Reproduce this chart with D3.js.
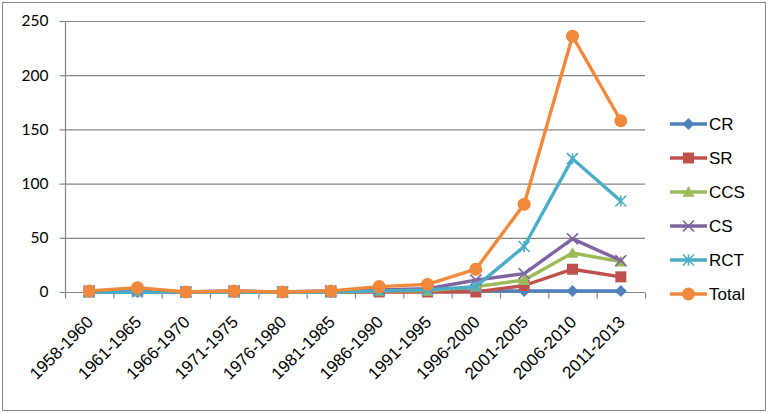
<!DOCTYPE html>
<html><head><meta charset="utf-8">
<script src="https://cdn.jsdelivr.net/npm/d3@7"></script>
<style>body{margin:0;background:#fff}svg{display:block}</style>
</head><body>
<svg id="c" width="768" height="414"></svg>
<script>
const categories = ["1958-1960","1961-1965","1966-1970","1971-1975","1976-1980","1981-1985","1986-1990","1991-1995","1996-2000","2001-2005","2006-2010","2011-2013"];
const CR    = [0, 0, 0, 0, 0, 0, 1, 1, 1, 1, 1, 1];
const SR    = [0, 1, 0, 0, 0, 0, 0, 0, 0, 6, 21, 14];
const CCS   = [0, 1, 0, 0, 0, 0, 1, 1, 5, 11, 36, 28];
const CS    = [1, 2, 0, 1, 0, 1, 2, 3, 11, 17, 49, 29];
const RCT   = [0, 0, 0, 0, 0, 0, 1, 2, 5, 42, 123, 84];
const Total = [1, 4, 0, 1, 0, 1, 5, 7, 21, 81, 236, 158];
const yTicks = [0, 50, 100, 150, 200, 250];

const series = [
  {name:"CR", values:CR, color:"#4F81BD", marker:"diamond"},
  {name:"SR", values:SR, color:"#C0504D", marker:"square"},
  {name:"CCS", values:CCS, color:"#9BBB59", marker:"triangle"},
  {name:"CS", values:CS, color:"#8064A2", marker:"x"},
  {name:"RCT", values:RCT, color:"#4BACC6", marker:"star"},
  {name:"Total", values:Total, color:"#F0893B", marker:"circle"}
];

const svg = d3.select("#c");
svg.append("rect").attr("x",2.5).attr("y",2.5).attr("width",763).attr("height",408)
  .attr("fill","#fff").attr("stroke","#868686").attr("stroke-width",1);

const L = 65, R = 645, T = 21, B = 292;
const x = d3.scaleBand().domain(categories).range([L, R]);
const y = d3.scaleLinear().domain([0, 250]).range([B, T]);

// gridlines
svg.append("g").selectAll("line").data(yTicks.filter(d=>d>0)).join("line")
  .attr("x1", L).attr("x2", R).attr("y1", d=>y(d)+0.5).attr("y2", d=>y(d)+0.5)
  .attr("stroke","#868686").attr("stroke-width",1.2);

// y axis
const yAxis = svg.append("g").attr("transform",`translate(${L+0.5},0)`)
  .call(d3.axisLeft(y).tickValues(yTicks).tickSize(6).tickPadding(11));
yAxis.select(".domain").attr("stroke","#868686").attr("stroke-width",1.2).attr("d",`M0,${T}V${B}`);
yAxis.selectAll(".tick line").attr("stroke","#868686").attr("stroke-width",1.2);
yAxis.selectAll(".tick text").attr("font-family","Lato, 'Open Sans', sans-serif").attr("font-size",15.5).attr("fill","#000");

// x axis
const xg = svg.append("g");
xg.append("line").attr("x1",L).attr("x2",R).attr("y1",B+0.5).attr("y2",B+0.5).attr("stroke","#868686").attr("stroke-width",1.2);
const bounds = categories.map((c,i)=>x(c)).concat([R]);
xg.selectAll("line.tk").data(bounds).join("line").attr("class","tk")
  .attr("x1",d=>d+0.5).attr("x2",d=>d+0.5).attr("y1",B+0.5).attr("y2",B+6.5)
  .attr("stroke","#868686").attr("stroke-width",1.2);
const c45 = Math.SQRT1_2;
xg.selectAll("text").data(categories).join("text")
  .attr("transform", d=>`matrix(${c45},${-c45},${c45},${c45},${x(d)+x.bandwidth()/2+5},${B+31})`)
  .attr("text-anchor","end")
  .attr("font-family","'Liberation Sans', Arial, sans-serif").attr("font-size",17)
  .attr("fill","#000").text(d=>d);

function markerPath(type, s){
  switch(type){
    case "diamond": return `M0,${-s}L${s},0L0,${s}L${-s},0Z`;
    case "square": return `M${-s},${-s}H${s}V${s}H${-s}Z`;
    case "triangle": return `M0,${-s}L${s},${s*0.8}L${-s},${s*0.8}Z`;
    case "x": return `M${-s},${-s}L${s},${s}M${s},${-s}L${-s},${s}`;
    case "star": return `M${-s},${-s}L${s},${s}M${s},${-s}L${-s},${s}M0,${-s}V${s}`;
  }
}
function drawMarker(g, type, color, cx, cy){
  if(type==="circle"){
    g.append("circle").attr("cx",cx).attr("cy",cy).attr("r",6.5).attr("fill",color);
  } else if(type==="x"||type==="star"){
    g.append("path").attr("transform",`translate(${cx},${cy})`).attr("d",markerPath(type,5.5))
      .attr("fill","none").attr("stroke",color).attr("stroke-width",1.6);
  } else {
    const s = type==="diamond"?6:(type==="square"?5.5:6);
    g.append("path").attr("transform",`translate(${cx},${cy})`).attr("d",markerPath(type,s)).attr("fill",color);
  }
}

const line = d3.line().x((d,i)=>x(categories[i])+x.bandwidth()/2).y(d=>y(d));
series.forEach(s=>{
  const g = svg.append("g");
  g.append("path").datum(s.values).attr("d",line).attr("fill","none")
    .attr("stroke",s.color).attr("stroke-width",3.4).attr("stroke-linejoin","round");
  s.values.forEach((v,i)=>drawMarker(g, s.marker, s.color, x(categories[i])+x.bandwidth()/2, y(v)));
});

// legend
const lg = svg.append("g");
series.forEach((s,i)=>{
  const yy = 124 + i*34;
  lg.append("line").attr("x1",670).attr("x2",707).attr("y1",yy).attr("y2",yy)
    .attr("stroke",s.color).attr("stroke-width",3.4);
  drawMarker(lg, s.marker, s.color, 688.5, yy);
  lg.append("text").attr("x",709).attr("y",yy+6)
    .attr("font-family","'Liberation Sans', Arial, sans-serif").attr("font-size",17)
    .attr("fill","#000").text(s.name);
});
</script>
</body></html>
